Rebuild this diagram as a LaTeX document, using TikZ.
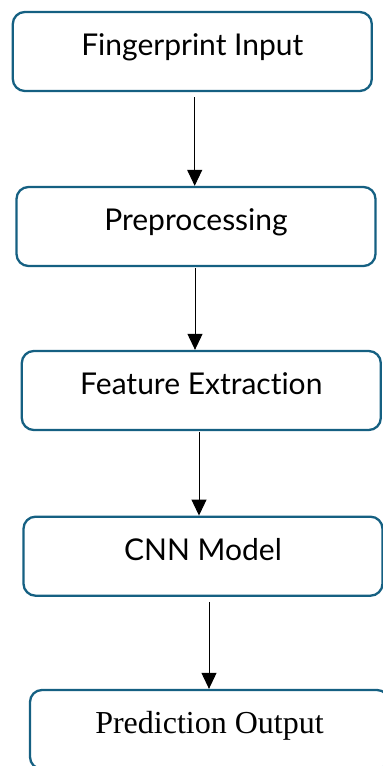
\documentclass[tikz,border=0pt]{standalone}
\usepackage{fontspec}
\setmainfont{Liberation Serif}
\newfontfamily\boxfont[Ligatures=NoCommon]{Lato}
\usetikzlibrary{arrows.meta}
\definecolor{boxblue}{HTML}{156082}

\begin{document}
\begin{tikzpicture}[x=1pt, y=1pt,
    stagebox/.style={draw=boxblue, line width=2.3pt, rounded corners=12pt,
        anchor=base, minimum width=359pt, inner xsep=0pt, inner ysep=0pt,
        text height=44pt, text depth=35pt, font=\boxfont\fontsize{30}{35}\selectfont},
    flow/.style={line width=1pt, -{Triangle[width=15pt,length=16pt]}}]
    % Define frame
    \useasboundingbox (0,0) rectangle (383,766);
    \clip (0,0) rectangle (383,766);

    % Define coordinates
    \coordinate (P1) at (192.3,710);
    \coordinate (P2) at (196,535);
    \coordinate (P3) at (201.3,371);
    \coordinate (P4) at (203,205.3);
    \coordinate (P5) at (209.5,32);

    % Stages
    \node[stagebox] (input) at (P1) {Fingerprint Input};
    \node[stagebox] (prep) at (P2) {Preprocessing};
    \node[stagebox] (feat) at (P3) {Feature Extraction};
    \node[stagebox] (cnn) at (P4) {CNN Model};
    \node[stagebox, font=\rmfamily\fontsize{32}{36}\selectfont] (pred) at (P5) {Prediction Output};

    % Draw arrows between stages
    \draw[flow] ([xshift=2.4pt,yshift=-5pt]input.south) -- ([xshift=2.4pt]input.south |- prep.north);
    \draw[flow] ([xshift=-1pt,yshift=-1pt]prep.south) -- ([xshift=-1pt]prep.south |- feat.north);
    \draw[flow] ([xshift=-2.3pt,yshift=-1pt]feat.south) -- ([xshift=-2.3pt]feat.south |- cnn.north);
    \draw[flow] ([xshift=6pt,yshift=-5pt]cnn.south) -- ([xshift=6pt]cnn.south |- pred.north);
\end{tikzpicture}
\end{document}
